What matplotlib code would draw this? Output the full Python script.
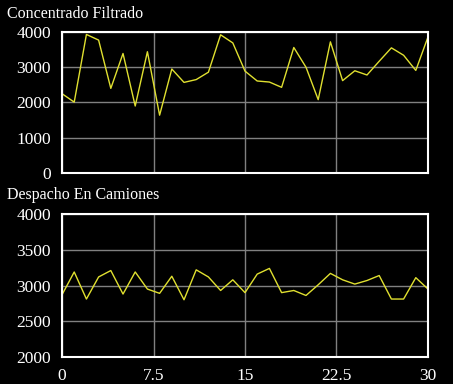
import numpy as np
import matplotlib.pyplot as plt

dias = np.arange(0, 31)
filtrado = [2250, 2010, 3930, 3770, 2400, 3390, 1900, 3440, 1640, 2950,
            2570, 2650, 2860, 3920, 3690, 2890, 2610, 2580, 2430, 3560,
            3000, 2080, 3720, 2620, 2900, 2780, 3170, 3550, 3340, 2910, 3860]
camiones = [2870, 3190, 2810, 3120, 3210, 2880, 3190, 2950, 2890, 3130,
            2800, 3220, 3120, 2930, 3080, 2900, 3160, 3240, 2900, 2930,
            2860, 3010, 3170, 3080, 3020, 3070, 3140, 2810, 2810, 3110, 2950]

titulos = ["Concentrado Filtrado", "Despacho En Camiones"]
xticks = [0, 7.5, 15, 22.5, 30]
xlabels = ["0", "7.5", "15", "22.5", "30"]

plt.rcParams['font.family'] = ['Liberation Serif', 'DejaVu Serif']

fig = plt.figure(figsize=(4.53, 3.84), dpi=100, facecolor='black')
ax1 = fig.add_axes([0.1369, 0.5495, 0.8079, 0.3672])
ax2 = fig.add_axes([0.1369, 0.0710, 0.8079, 0.3710])

def estilo(ax, ylim, yticks):
    ax.set_facecolor('black')
    ax.set_xlim(0, 30)
    ax.set_ylim(*ylim)
    ax.set_yticks(yticks)
    ax.set_xticks(xticks)
    ax.grid(True, color='#808080', linewidth=1)
    ax.set_axisbelow(True)
    for s in ax.spines.values():
        s.set_color('white')
        s.set_linewidth(1.5)
    ax.tick_params(length=0, colors='white', labelsize=12.5, pad=8)

ax1.plot(dias, filtrado, color='#e0e030', linewidth=1)
estilo(ax1, (0, 4000), [0, 1000, 2000, 3000, 4000])
ax1.set_xticklabels([])

ax2.plot(dias, camiones, color='#e0e030', linewidth=1)
estilo(ax2, (2000, 4000), [2000, 2500, 3000, 3500, 4000])
ax2.set_xticklabels(xlabels)

fig.text(0.016, 0.963, titulos[0], color='white', fontsize=11.5, va='center', ha='left')
fig.text(0.016, 0.492, titulos[1], color='white', fontsize=11.5, va='center', ha='left')

fig.savefig('out.png', dpi=100, facecolor='black')
